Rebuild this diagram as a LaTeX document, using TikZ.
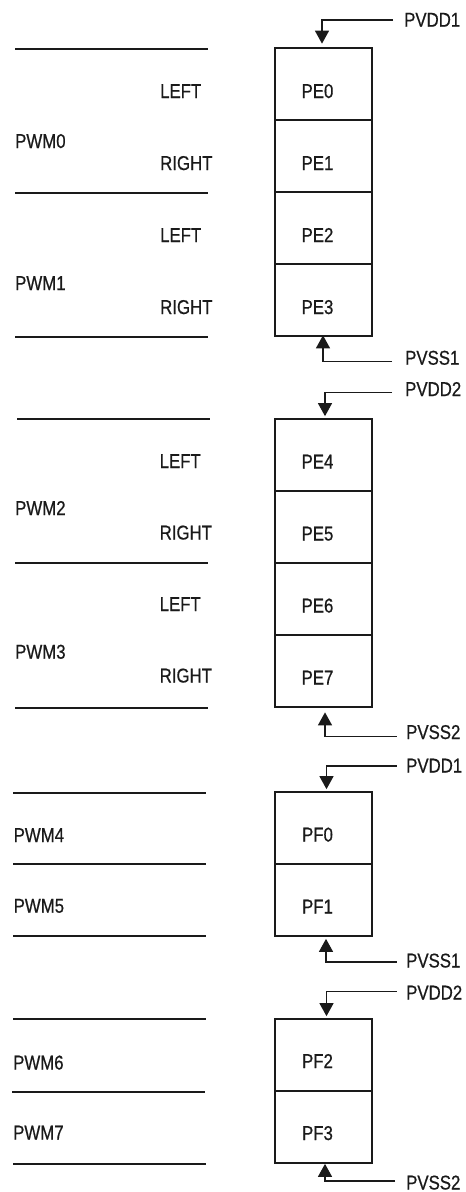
\documentclass[tikz,border=0pt]{standalone}
\usepackage{fontspec}
\setmainfont{Liberation Sans}[FakeStretch=0.84,FakeBold=0.6]
\usetikzlibrary{arrows.meta}
\definecolor{ink}{HTML}{1A1A1A}
\begin{document}
\begin{tikzpicture}[x=1pt,y=-1pt,
  font=\fontsize{20}{24}\selectfont,
  cell/.style={draw=ink,line width=1.7pt,minimum width=97pt,minimum height=72pt,inner sep=0pt},
  lbl/.style={text=ink,inner sep=0pt,anchor=base west},
  ctxt/.style={text=ink,inner sep=0pt,anchor=base},
  sep/.style={draw=ink,line width=1.7pt},
  pwr/.style={draw=ink,line width=1.3pt,-{Triangle[width=14pt,length=13pt]},shorten >=2pt}]
\useasboundingbox (0,0) rectangle (466,1192);

% ---------------- Block 1 ----------------
\node[cell] (pe0) at (323.5,84) {};
\node[cell] (pe1) at (323.5,156) {};
\node[cell] (pe2) at (323.5,228) {};
\node[cell] (pe3) at (323.5,300) {};
\node[ctxt] at ([xshift=-6pt,yshift=-14pt]pe0.center) {PE0};
\node[ctxt] at ([xshift=-6pt,yshift=-14pt]pe1.center) {PE1};
\node[ctxt] at ([xshift=-6pt,yshift=-14pt]pe2.center) {PE2};
\node[ctxt] at ([xshift=-6pt,yshift=-14pt]pe3.center) {PE3};
\draw[sep] (15,49) -- (208,49);
\draw[sep] (15,193) -- (208,193);
\draw[sep] (15,337) -- (208,337);
\node[lbl] (l0) at (160,98) {LEFT};
\node[lbl] (r0) at (160,170) {RIGHT};
\node[lbl] (l1) at (160,242) {LEFT};
\node[lbl] (r1) at (160,314) {RIGHT};
\node[lbl] (pwm0) at (15,148) {PWM0};
\node[lbl] (pwm1) at (15,290) {PWM1};
\node[lbl] (vdd1a) at (404,26.7) {PVDD1};
\node[lbl] (vss1a) at (405,364.7) {PVSS1};
\coordinate (s1) at (393,20);
\coordinate (s2) at (392,361.7);
\draw[pwr,shorten >=3.5pt] (s1) -| ([xshift=-1.5pt]pe0.north);
\draw[pwr,shorten >=-1.5pt] (s2) -| ([xshift=-0.5pt]pe3.south);

% ---------------- Block 2 ----------------
\node[cell] (pe4) at (323.5,455) {};
\node[cell] (pe5) at (323.5,527) {};
\node[cell] (pe6) at (323.5,599) {};
\node[cell] (pe7) at (323.5,671) {};
\node[ctxt] at ([xshift=-6pt,yshift=-13.5pt]pe4.center) {PE4};
\node[ctxt] at ([xshift=-6pt,yshift=-13.5pt]pe5.center) {PE5};
\node[ctxt] at ([xshift=-6pt,yshift=-13.5pt]pe6.center) {PE6};
\node[ctxt] at ([xshift=-6pt,yshift=-13.5pt]pe7.center) {PE7};
\draw[sep] (17,419.3) -- (210,419.3);
\draw[sep] (15,563.3) -- (208,563.3);
\draw[sep] (15,708.3) -- (208,708.3);
\node[lbl] (l2) at (159.5,468) {LEFT};
\node[lbl] (r2) at (159.5,539.5) {RIGHT};
\node[lbl] (l3) at (159.5,611) {LEFT};
\node[lbl] (r3) at (159.5,682.5) {RIGHT};
\node[lbl] (pwm2) at (15,515) {PWM2};
\node[lbl] (pwm3) at (15,658.7) {PWM3};
\node[lbl] (vdd2a) at (405,396) {PVDD2};
\node[lbl] (vss2a) at (406,739) {PVSS2};
\coordinate (s3) at (392,392.3);
\coordinate (s4) at (396.5,736.7);
\draw[pwr] (s3) -| ([xshift=1.5pt]pe4.north);
\draw[pwr,shorten >=4.5pt] (s4) -| ([xshift=1.5pt]pe7.south);

% ---------------- Block 3 ----------------
\node[cell] (pf0) at (323.5,828) {};
\node[cell] (pf1) at (323.5,900) {};
\node[ctxt] at ([xshift=-6pt,yshift=-13.5pt]pf0.center) {PF0};
\node[ctxt] at ([xshift=-6pt,yshift=-13.5pt]pf1.center) {PF1};
\draw[sep] (13,792.7) -- (206,792.7);
\draw[sep] (13,864.3) -- (206,864.3);
\draw[sep] (13,935.7) -- (206,935.7);
\node[lbl] (pwm4) at (13.5,842) {PWM4};
\node[lbl] (pwm5) at (13.5,912.7) {PWM5};
\node[lbl] (vdd1b) at (406,772.5) {PVDD1};
\node[lbl] (vss1b) at (406,967.5) {PVSS1};
\coordinate (s5) at (396.5,766);
\coordinate (s6) at (396.5,962);
\draw[pwr] (s5) -| ([xshift=3pt]pf0.north);
\draw[pwr] (s6) -| ([xshift=2.5pt]pf1.south);

% ---------------- Block 4 ----------------
\node[cell] (pf2) at (323.5,1055) {};
\node[cell] (pf3) at (323.5,1127) {};
\node[ctxt] at ([xshift=-6pt,yshift=-13pt]pf2.center) {PF2};
\node[ctxt] at ([xshift=-6pt,yshift=-13pt]pf3.center) {PF3};
\draw[sep] (13,1019) -- (206,1019);
\draw[sep] (12,1091.7) -- (205,1091.7);
\draw[sep] (13,1164.3) -- (206,1164.3);
\node[lbl] (pwm6) at (13,1069.5) {PWM6};
\node[lbl] (pwm7) at (13,1139.5) {PWM7};
\node[lbl] (vdd2b) at (406,999.5) {PVDD2};
\node[lbl] (vss2b) at (406,1189.5) {PVSS2};
\coordinate (s7) at (396.5,991.7);
\coordinate (s8) at (395,1181);
\draw[pwr] (s7) -| ([xshift=3pt]pf2.north);
\draw[pwr,shorten >=0pt] (s8) -| ([xshift=1.5pt]pf3.south);
\end{tikzpicture}
\end{document}
